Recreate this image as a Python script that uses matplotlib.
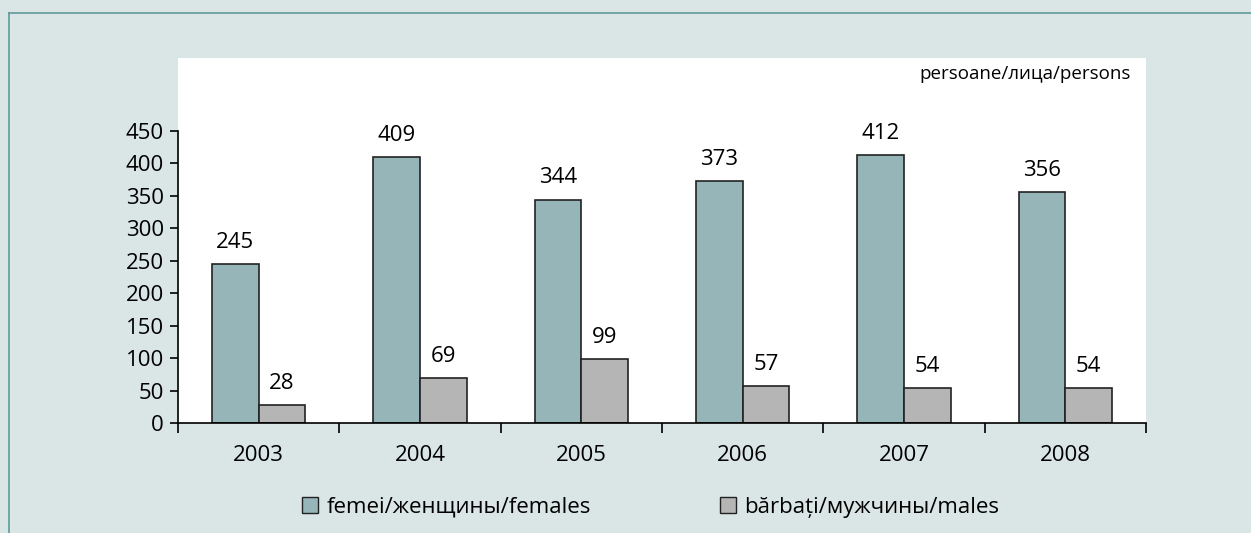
import numpy as np
import matplotlib.pyplot as plt
from matplotlib.lines import Line2D
from matplotlib.patches import Patch

years = ['2003', '2004', '2005', '2006', '2007', '2008']
females = [245, 409, 344, 373, 412, 356]
males = [28, 69, 99, 57, 54, 54]

plt.rcParams['font.family'] = ['Open Sans', 'DejaVu Sans']

bg = '#dae5e5'
c_f = '#95b5b9'
c_m = '#b5b5b5'
fs = 16

fig = plt.figure(figsize=(12.51, 5.33), dpi=100, facecolor=bg)
ax = fig.add_axes([178/1251, 110/533, 968/1251, 365/533])
ax.set_facecolor('white')

x = np.arange(len(years))
w = 0.29
bf = ax.bar(x - w/2, females, w, color=c_f, edgecolor='#222222', linewidth=1.2)
bm = ax.bar(x + w/2, males, w, color=c_m, edgecolor='#222222', linewidth=1.2)

for rects, vals in ((bf, females), (bm, males)):
    for r, v in zip(rects, vals):
        ax.annotate(str(v), (r.get_x() + r.get_width()/2, v), xytext=(0, 8),
                    textcoords='offset points', ha='center', va='bottom', fontsize=fs)

ax.set_xlim(-0.5, len(years) - 0.5)
ax.set_ylim(0, 562)
ax.set_yticks(range(0, 451, 50))
ax.tick_params(axis='y', labelsize=fs, length=6, width=1.2, pad=4)
ax.set_xticks(np.arange(-0.5, len(years), 1))
ax.set_xticklabels([])
ax.set_xticks(x, minor=True)
ax.set_xticklabels(years, minor=True)
ax.tick_params(axis='x', which='major', length=7, width=1.2)
ax.tick_params(axis='x', which='minor', length=0, labelsize=fs, pad=16)

for s in ('top', 'right'):
    ax.spines[s].set_visible(False)
ax.spines['left'].set_bounds(0, 450)
ax.spines['left'].set_linewidth(1.2)
ax.spines['bottom'].set_linewidth(1.2)

ax.text(0.984, 0.955, 'persoane/лица/persons', transform=ax.transAxes,
        ha='right', va='center', fontsize=13.5)

handles = [Patch(facecolor=c_f, edgecolor='#222222', label='femei/женщины/females'),
           Patch(facecolor=c_m, edgecolor='#222222', label='bărbați/мужчины/males')]
fig.legend(handles=handles, loc='center', bbox_to_anchor=(651/1251, 1 - 507/533),
           ncol=2, frameon=False, fontsize=fs, handlelength=0.7, handleheight=0.7,
           handletextpad=0.4, columnspacing=5.8)

# outer frame lines
fig.add_artist(Line2D([9/1251, 9/1251], [0, 1 - 13/533], transform=fig.transFigure,
                      color='#5f9a9a', linewidth=1.2))
fig.add_artist(Line2D([9/1251, 1], [1 - 13/533, 1 - 13/533], transform=fig.transFigure,
                      color='#5f9a9a', linewidth=1.2))

fig.savefig('out.png', dpi=100, facecolor=bg)
